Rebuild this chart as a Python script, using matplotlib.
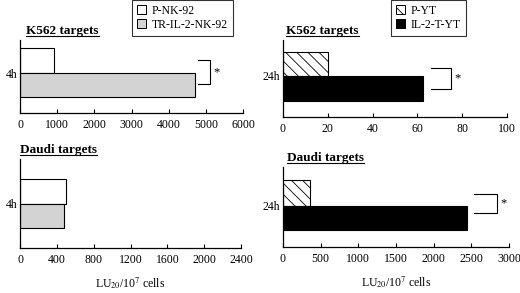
import matplotlib
matplotlib.use('Agg')
from matplotlib import pyplot as plt
from matplotlib.patches import Patch

plt.rcParams['font.family'] = ['Liberation Serif', 'DejaVu Serif']
plt.rcParams['mathtext.fontset'] = 'stix'
plt.rcParams['hatch.linewidth'] = 0.6

# data
nk_labels = ['P-NK-92', 'TR-IL-2-NK-92']
yt_labels = ['P-YT', 'IL-2-T-YT']
nk_k562 = [920, 4720]
nk_daudi = [500, 480]
yt_k562 = [20, 62.5]
yt_daudi = [360, 2440]
nk_time = '4h'
yt_time = '24h'
nk_k562_ticks = [0, 1000, 2000, 3000, 4000, 5000, 6000]
nk_daudi_ticks = [0, 400, 800, 1200, 1600, 2000, 2400]
yt_k562_ticks = [0, 20, 40, 60, 80, 100]
yt_daudi_ticks = [0, 500, 1000, 1500, 2000, 2500, 3000]

W, H = 520, 293
fig = plt.figure(figsize=(W / 100, H / 100), dpi=100)


def px_axes(x0, x1, ytop, ybot):
    return fig.add_axes([x0 / W, 1 - ybot / H, (x1 - x0) / W, (ybot - ytop) / H])


def draw_panel(ax, values, ticks, time_label, title, styles, bars_px, axis_px,
               title_x=0.0, star=None):
    """bars_px = (top, mid, bottom) of the two bars, axis_px = (top, bottom) in pixels"""
    bar_top, bar_mid, bar_bot = bars_px
    ytop, ybot = axis_px
    span = ybot - ytop
    y1 = (ybot - (bar_top + bar_mid) / 2) / span
    y2 = (ybot - (bar_mid + bar_bot) / 2) / span
    h1 = (bar_mid - bar_top) / span
    h2 = (bar_bot - bar_mid) / span
    for val, yc, hh, st in zip(values, [y1, y2], [h1, h2], styles):
        ax.barh(yc, val, height=hh, edgecolor='black', linewidth=0.8, **st)
    ax.set_ylim(0, 1)
    ax.set_xlim(ticks[0], ticks[-1])
    ax.set_xticks(ticks)
    ax.set_yticks([y2 + h2 / 2])
    ax.set_yticklabels([time_label])
    ax.tick_params(axis='x', labelsize=8.5, length=3, width=0.8, direction='in', pad=4)
    ax.tick_params(axis='y', labelsize=8.5, length=0, pad=2)
    for s in ['top', 'right']:
        ax.spines[s].set_visible(False)
    for s in ['left', 'bottom']:
        ax.spines[s].set_linewidth(0.9)
    ttl = ax.set_title(title, loc='left', fontsize=9.5, fontweight='semibold', pad=4)
    ttl.set_x(title_x)
    if star is not None:
        bx0, bx1, by0, by1 = star
        ax.plot([bx0, bx1, bx1, bx0], [by0, by0, by1, by1], color='black', lw=0.8,
                clip_on=False)
        ax.text(bx1 + (ticks[-1] - ticks[0]) * 0.015, (by0 + by1) / 2, '*', fontsize=9,
                va='center', ha='left')
    return ttl


nk_styles = [dict(color='white'), dict(color='#d3d3d3')]
yt_styles = [dict(color='white', hatch='\\\\\\'), dict(color='black')]

ax1 = px_axes(20, 243, 40, 113)
t1 = draw_panel(ax1, nk_k562, nk_k562_ticks, nk_time, 'K562 targets', nk_styles,
                (48, 73, 97), (40, 113), title_x=0.027,
                star=(4800, 5100, (113 - 60) / 73, (113 - 84) / 73))

ax2 = px_axes(283, 507, 40, 117)
t2 = draw_panel(ax2, yt_k562, yt_k562_ticks, yt_time, 'K562 targets', yt_styles,
                (52, 76, 101), (40, 117), title_x=0.015,
                star=(66, 75, (117 - 68) / 77, (117 - 89) / 77))

ax3 = px_axes(20, 241, 159, 248)
t3 = draw_panel(ax3, nk_daudi, nk_daudi_ticks, nk_time, 'Daudi targets', nk_styles,
                (179, 204, 228), (159, 248))

ax4 = px_axes(283, 509, 167, 247)
t4 = draw_panel(ax4, yt_daudi, yt_daudi_ticks, yt_time, 'Daudi targets', yt_styles,
                (180, 206, 230), (167, 247), title_x=0.018,
                star=(2540, 2840, (247 - 194) / 80, (247 - 213) / 80))

xlab = r'LU$_{20}$/10$^{7}$ cells'
ax3.set_xlabel(xlab, fontsize=8.5, labelpad=7)
ax4.set_xlabel(xlab, fontsize=8.5, labelpad=7)

# underline the panel titles
fig.canvas.draw()
rend = fig.canvas.get_renderer()
for ttl in [t1, t2, t3, t4]:
    bb = ttl.get_window_extent(rend)
    fig.add_artist(plt.Line2D([bb.x0 / W, bb.x1 / W], [(bb.y0 + 1.5) / H, (bb.y0 + 1.5) / H],
                              color='black', lw=0.8, transform=fig.transFigure))

leg_kw = dict(loc='upper left', fontsize=8.5, frameon=True, fancybox=False, borderpad=0.4,
              handlelength=0.8, handleheight=0.8, handletextpad=0.5, labelspacing=0.2,
              borderaxespad=0)

h_nk = [Patch(facecolor='white', edgecolor='black', lw=0.7),
        Patch(facecolor='#d3d3d3', edgecolor='black', lw=0.7)]
leg1 = fig.legend(h_nk, nk_labels, bbox_to_anchor=(132 / W, 1.0), **leg_kw)
leg1.get_frame().set_edgecolor('black')
leg1.get_frame().set_linewidth(0.8)

h_yt = [Patch(facecolor='white', edgecolor='black', hatch='\\\\\\', lw=0.7),
        Patch(facecolor='black', edgecolor='black', lw=0.7)]
leg2 = fig.legend(h_yt, yt_labels, bbox_to_anchor=(391 / W, 1.0), **leg_kw)
leg2.get_frame().set_edgecolor('black')
leg2.get_frame().set_linewidth(0.8)

fig.savefig('out.png', dpi=100)
